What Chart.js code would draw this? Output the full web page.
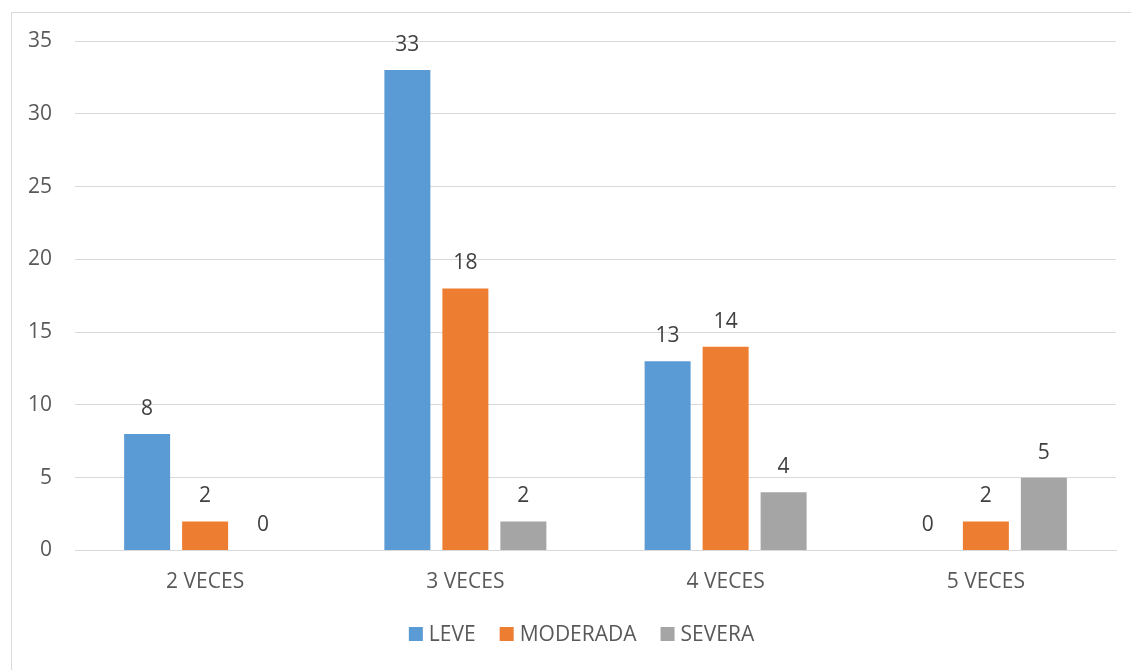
<!DOCTYPE html>
<html><head><meta charset="utf-8">
<script src="https://cdn.jsdelivr.net/npm/chart.js@4/dist/chart.umd.min.js"></script>
<style>
html,body{margin:0;padding:0;background:#fff;}
#frame{position:absolute;left:11px;top:12px;width:1140px;height:680px;border:1px solid #d9d9d9;box-sizing:border-box;}
#wrap{position:absolute;left:0;top:0;width:1131px;height:670px;}
</style></head>
<body>
<div id="frame"></div>
<div id="wrap"><canvas id="c" width="1131" height="670"></canvas></div>
<script>
const categories = ["2 VECES", "3 VECES", "4 VECES", "5 VECES"];
const leve = [8, 33, 13, 0];
const moderada = [2, 18, 14, 2];
const severa = [0, 2, 4, 5];
const seriesNames = ["LEVE", "MODERADA", "SEVERA"];
const seriesColors = ['#5B9BD5', '#ED7D31', '#A5A5A5'];
const yTicks = [0, 5, 10, 15, 20, 25, 30, 35];

const FONT = "'Open Sans', sans-serif";
const FS = 21;
const TXT = "#595959";

const valueLabels = {
  id: 'valueLabels',
  afterDatasetsDraw(chart) {
    const ctx = chart.ctx;
    ctx.save();
    ctx.font = FS + "px " + FONT;
    ctx.fillStyle = "#404040";
    ctx.textAlign = "center";
    ctx.textBaseline = "middle";
    chart.data.datasets.forEach((ds, i) => {
      chart.getDatasetMeta(i).data.forEach((bar, j) => {
        ctx.fillText(String(ds.data[j]), bar.x, bar.y - 25);
      });
    });
    ctx.restore();
  }
};

// Legend drawn from the datasets (labels and colours), centred on the frame
const bottomLegend = {
  id: 'bottomLegend',
  afterDraw(chart) {
    const ctx = chart.ctx;
    ctx.save();
    ctx.font = FS + "px " + FONT;
    ctx.textBaseline = "middle";
    ctx.textAlign = "left";
    const box = 14, gapText = 6, gapItem = 24, cy = 634, cx = 581.5;
    const items = chart.data.datasets.map(ds => ({label: ds.label, color: ds.backgroundColor, w: ctx.measureText(ds.label).width}));
    let total = 0;
    items.forEach((it, i) => { total += box + gapText + it.w + (i < items.length - 1 ? gapItem : 0); });
    let x = cx - total / 2;
    items.forEach(it => {
      ctx.fillStyle = it.color;
      ctx.fillRect(x, cy - box / 2, box, box);
      ctx.fillStyle = TXT;
      ctx.fillText(it.label, x + box + gapText, cy + 1);
      x += box + gapText + it.w + gapItem;
    });
    ctx.restore();
  }
};

new Chart(document.getElementById('c'), {
  type: 'bar',
  data: {
    labels: categories,
    datasets: seriesNames.map((name, i) => ({
      label: name,
      data: [leve, moderada, severa][i],
      backgroundColor: seriesColors[i]
    }))
  },
  options: {
    responsive: false,
    animation: false,
    events: [],
    categoryPercentage: 0.6686,
    barPercentage: 0.793,
    layout: {padding: {left: 0, right: 15, top: 41, bottom: 68.5}},
    plugins: {
      tooltip: {enabled: false},
      legend: {display: false}
    },
    scales: {
      x: {
        afterFit(s) { s.height = 51; },
        grid: {display: false, drawTicks: false},
        border: {display: true, color: '#d9d9d9', width: 1},
        ticks: {font: {family: FONT, size: FS}, color: TXT, padding: 19}
      },
      y: {
        min: 0, max: 35,
        afterFit(s) { s.width = 75; },
        afterBuildTicks(s) { s.ticks = yTicks.map(v => ({value: v})); },
        grid: {color: '#d9d9d9', drawTicks: false, lineWidth: 1},
        border: {display: false},
        ticks: {font: {family: FONT, size: FS}, color: TXT, padding: 23}
      }
    }
  },
  plugins: [valueLabels, bottomLegend]
});
</script>
</body></html>
